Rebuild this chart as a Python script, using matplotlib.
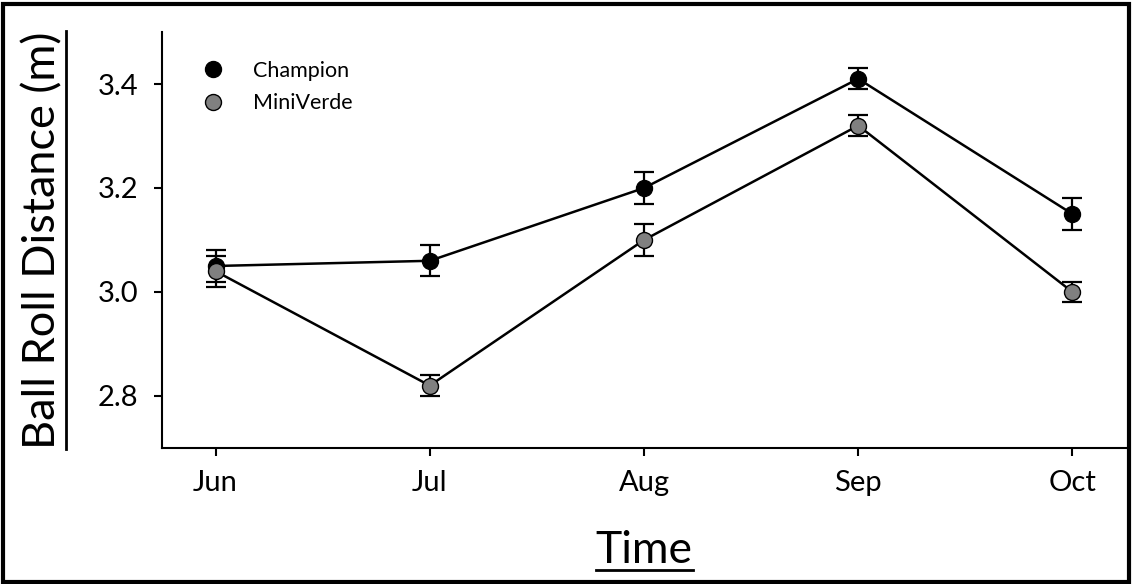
# Distancia de rodadura de la bola por mes, dos variedades de césped
import matplotlib
matplotlib.use("Agg")
import matplotlib.pyplot as plt
from matplotlib.lines import Line2D
from matplotlib.patches import Rectangle

# ----------- Datos -------------
MESES = ["Jun", "Jul", "Aug", "Sep", "Oct"]
CHAMPION = [3.05, 3.06, 3.20, 3.41, 3.15]
CHAMPION_ERR = [0.03, 0.03, 0.03, 0.02, 0.03]
MINIVERDE = [3.04, 2.82, 3.10, 3.32, 3.00]
MINIVERDE_ERR = [0.03, 0.02, 0.03, 0.02, 0.02]
Y_TICKS = [2.8, 3.0, 3.2, 3.4]

# ----------- Estilo -------------
FUENTE = "Lato"
GRIS = "#808080"

plt.rcParams["font.family"] = FUENTE

fig = plt.figure(figsize=(11.32, 5.84), dpi=100)
ax = fig.add_axes([0.1431, 0.2329, 0.8516, 0.7123])

x = list(range(len(MESES)))

for valores, errores, color in [(CHAMPION, CHAMPION_ERR, "black"),
                                (MINIVERDE, MINIVERDE_ERR, GRIS)]:
    ax.errorbar(x, valores, yerr=errores, fmt="none", ecolor="black",
                elinewidth=1.6, capsize=7, capthick=1.6, zorder=2)
    ax.plot(x, valores, color="black", linewidth=1.8, marker="o",
            markersize=11.5, markerfacecolor=color, markeredgecolor="black",
            markeredgewidth=1.0, zorder=3)

ax.set_xlim(-0.25, 4.25)
ax.set_ylim(2.7, 3.5)
ax.set_xticks(x)
ax.set_xticklabels(MESES)
ax.set_yticks(Y_TICKS)
ax.set_yticklabels([f"{v:.1f}" for v in Y_TICKS])

for lado in ["top", "right"]:
    ax.spines[lado].set_visible(False)
for lado in ["left", "bottom"]:
    ax.spines[lado].set_linewidth(1.5)

ax.tick_params(axis="both", direction="out", length=6, width=1.5,
               labelsize=21)
ax.tick_params(axis="x", pad=10)
ax.tick_params(axis="y", pad=11)

# leyenda solo con marcadores
manejadores = [
    Line2D([], [], linestyle="none", marker="o", markersize=11.5,
           markerfacecolor="black", markeredgecolor="black"),
    Line2D([], [], linestyle="none", marker="o", markersize=11.5,
           markerfacecolor=GRIS, markeredgecolor="black"),
]
ax.legend(manejadores, ["Champion", "MiniVerde"], loc="upper left",
          bbox_to_anchor=(0.01, 0.978), frameon=False, fontsize=15.5,
          handletextpad=0.9, labelspacing=0.6)

# etiquetas de ejes subrayadas
tx = fig.text(644 / 1132, 1 - 563 / 584, "Time", fontsize=32,
              ha="center", va="baseline")
ty = fig.text(63 / 1132, 1 - 240 / 584, "Ball Roll Distance (m)",
              fontsize=32.5, rotation=90, ha="right", va="center")

fig.canvas.draw()
renderer = fig.canvas.get_renderer()
W, H = fig.bbox.width, fig.bbox.height

bx = tx.get_window_extent(renderer)
yl = 1 - 570 / 584
fig.add_artist(Line2D([bx.x0 / W, bx.x1 / W], [yl, yl], color="black",
                      linewidth=2, transform=fig.transFigure))

by = ty.get_window_extent(renderer)
xl = 66 / 1132
fig.add_artist(Line2D([xl, xl], [by.y0 / H, by.y1 / H], color="black",
                      linewidth=2, transform=fig.transFigure))

# marco exterior
fig.add_artist(Rectangle((0.003, 0.004), 0.994, 0.99, fill=False,
                         edgecolor="black", linewidth=3,
                         transform=fig.transFigure))

fig.savefig("out.png", dpi=100)
plt.close(fig)
